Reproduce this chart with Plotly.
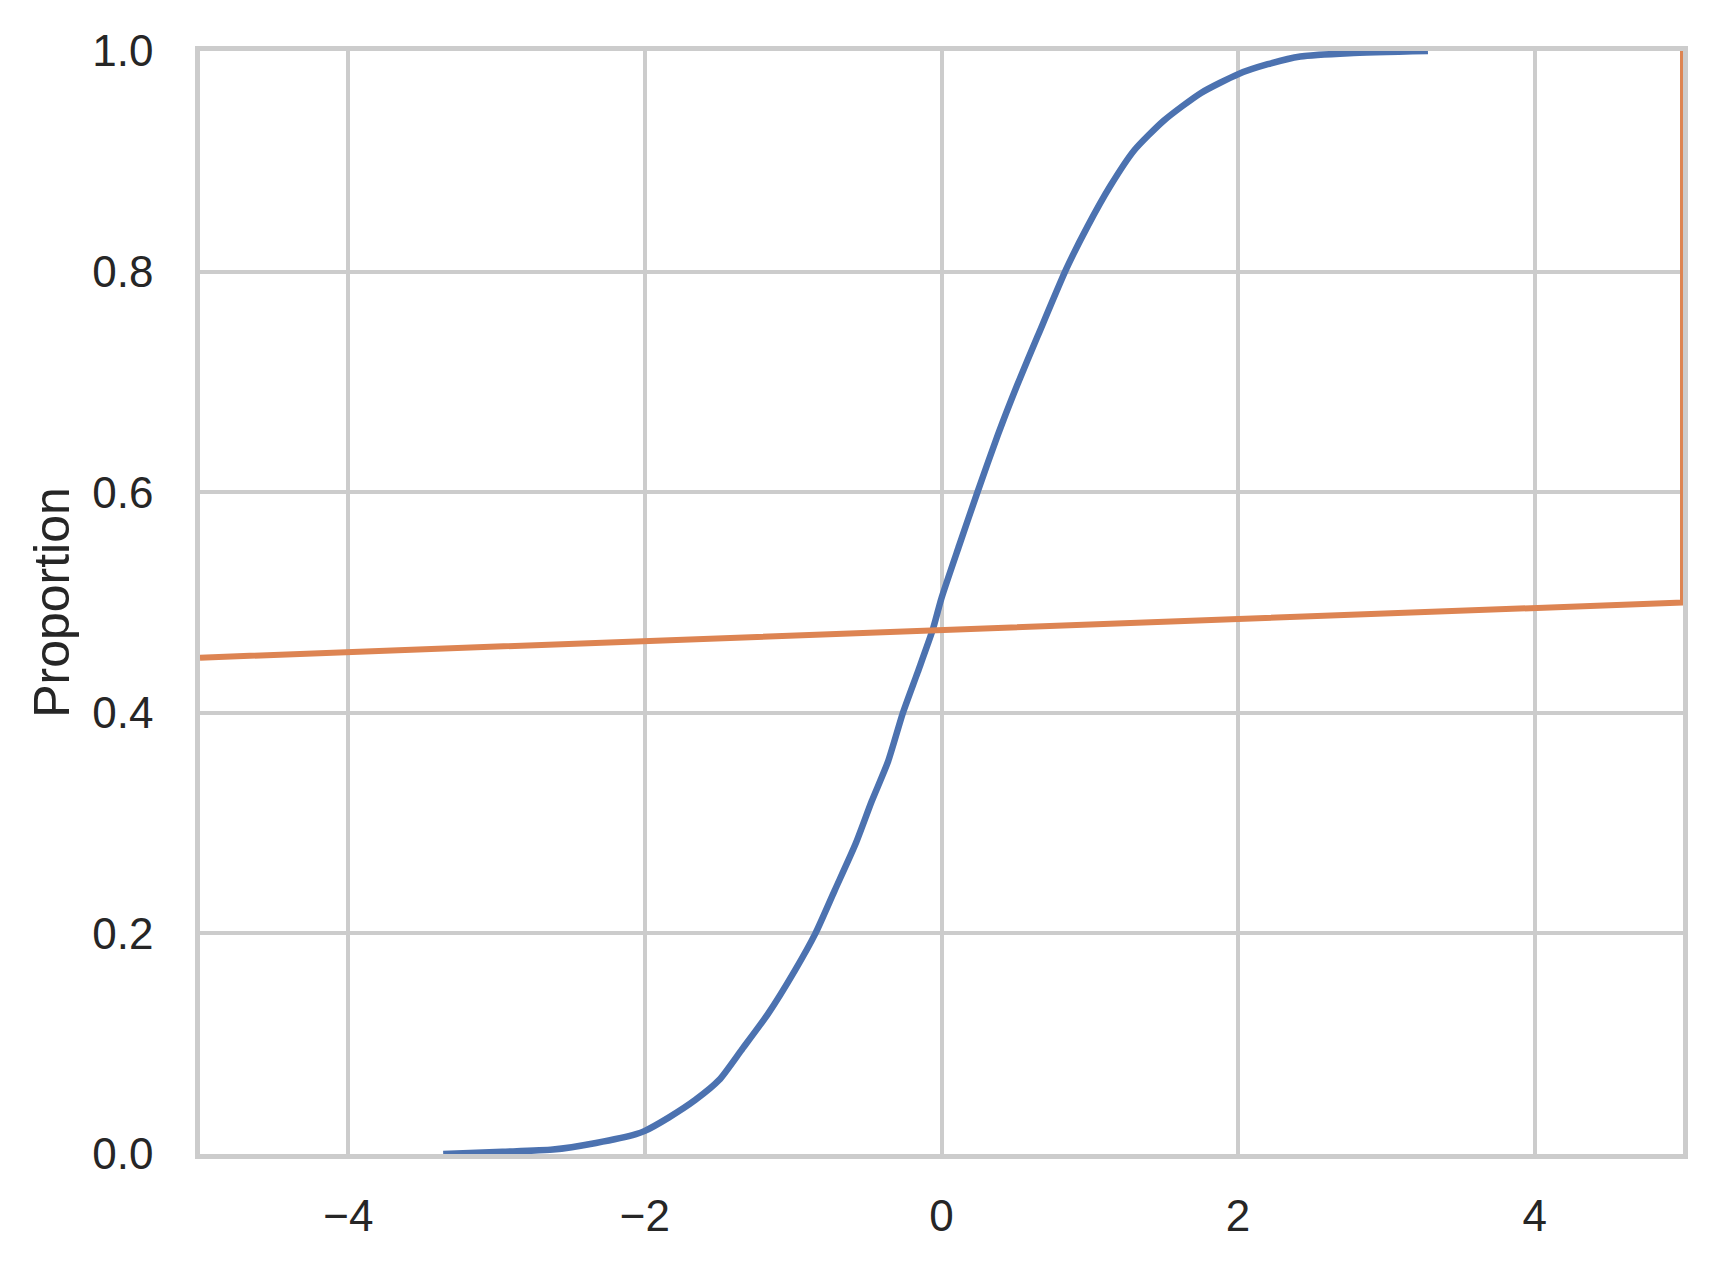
import plotly.graph_objects as go

# ECDF of the sample
ecdf_x = [-3.36, -2.96, -2.62, -2.33, -2.06, -2.0, -1.84, -1.66, -1.50, -1.35, -1.17, -0.99,
          -0.85, -0.72, -0.58, -0.47, -0.36, -0.26, -0.16, -0.06, 0.0, 0.12, 0.245, 0.38,
          0.51, 0.65, 0.84, 0.985, 1.14, 1.30, 1.50, 1.75, 2.0, 2.2, 2.42, 2.75, 3.28]
ecdf_y = [0.0, 0.002, 0.004, 0.010, 0.018, 0.021, 0.033, 0.049, 0.067, 0.094, 0.127, 0.166,
          0.200, 0.239, 0.281, 0.320, 0.356, 0.400, 0.437, 0.475, 0.504, 0.552, 0.601, 0.652,
          0.697, 0.742, 0.802, 0.841, 0.878, 0.910, 0.937, 0.962, 0.979, 0.988, 0.995, 0.998, 1.0]

# second series
line_x = [-5.0, 5.0, 5.0]
line_y = [0.45, 0.50, 1.0]

x_ticks = [-4, -2, 0, 2, 4]
y_ticks = [0.0, 0.2, 0.4, 0.6, 0.8, 1.0]
y_tick_text = ["0.0", "0.2", "0.4", "0.6", "0.8", "1.0"]

fig = go.Figure()
fig.add_trace(go.Scatter(x=ecdf_x, y=ecdf_y, mode="lines",
                         line=dict(color="#4c72b0", width=6.5, shape="spline", smoothing=0.6),
                         showlegend=False))
fig.add_trace(go.Scatter(x=line_x, y=line_y, mode="lines",
                         line=dict(color="#dd8452", width=6), showlegend=False))

font_family = "Liberation Sans, Arial, DejaVu Sans, sans-serif"
fig.update_layout(
    width=1698, height=1252,
    margin=dict(l=192, r=23, t=43, b=106),
    paper_bgcolor="white", plot_bgcolor="white",
    font=dict(family=font_family, size=44, color="#262626"),
)
fig.update_xaxes(
    range=[-5, 5], tickvals=x_ticks, showgrid=True, gridcolor="#cccccc", gridwidth=3.5,
    zeroline=False, showline=True, linecolor="#cccccc", linewidth=4.5, mirror=True,
    ticks="", ticklabelstandoff=19, tickfont=dict(size=44, color="#262626"),
)
fig.update_yaxes(
    range=[0, 1], tickvals=y_ticks, ticktext=y_tick_text, showgrid=True,
    gridcolor="#cccccc", gridwidth=3.5, zeroline=False, showline=True,
    linecolor="#cccccc", linewidth=4.5, mirror=True, ticks="", ticklabelstandoff=33,
    tickfont=dict(size=44, color="#262626"),
    title=dict(text="Proportion", font=dict(size=50, color="#262626"), standoff=8),
    automargin=False,
)
fig.write_html("out.html")
